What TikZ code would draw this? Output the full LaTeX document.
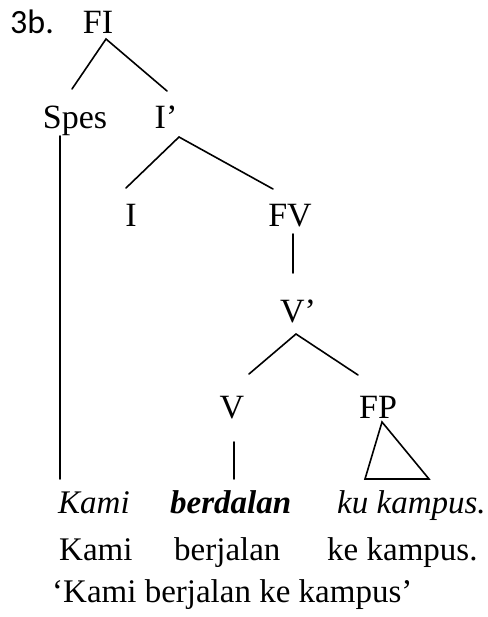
\documentclass[tikz,border=0pt]{standalone}
\usepackage{fontspec}
\setmainfont{Liberation Serif}
\newfontfamily\numfont{Carlito}
\usetikzlibrary{calc}
\tikzset{
  treelab/.style={inner sep=0pt,anchor=base,font=\fontsize{34}{40}\selectfont},
  glosslab/.style={inner sep=0pt,anchor=base west,font=\fontsize{33}{40}\selectfont},
  branch/.style={line width=1.6pt,line cap=round}
}

\begin{document}
\begin{tikzpicture}[x=1pt,y=-1pt]
    \useasboundingbox (0,0) rectangle (487,617);
    % labels of the tree
    \node[glosslab,font=\fontsize{34}{40}\numfont] (ex) at (10,34) {3b.};
    \node[treelab] (fi)   at (98,34)   {FI};
    \node[treelab] (spes) at (75,129)  {Spes};
    \node[treelab] (ip)   at (166,129) {I’};
    \node[treelab] (i)    at (131,226) {I};
    \node[treelab] (fv)   at (290,226) {FV};
    \node[treelab] (vp)   at (298,322) {V’};
    \node[treelab] (v)    at (232,418) {V};
    \node[treelab] (fp)   at (378,418) {FP};
    % the sentence, its gloss and translation
    \node[glosslab,font=\fontsize{33}{40}\itshape] (kami)  at (58,513)  {Kami};
    \node[glosslab,font=\fontsize{33}{40}\bfseries\itshape] (berd) at (170,513) {berdalan};
    \node[glosslab,font=\fontsize{33}{40}\itshape] (kupus) at (337,513) {ku kampus.};
    \node[glosslab] (kamig)  at (59,560)  {Kami};
    \node[glosslab] (berj)   at (174,560) {berjalan};
    \node[glosslab] (kepus)  at (327,560) {ke kampus.};
    \node[glosslab] (transl) at (52,602)  {‘Kami berjalan ke kampus’};
    % branches
    \draw[branch] ($(spes.base)+(-3,-40)$) -- ($(fi.base)+(8,5)$) -- ($(ip.base)+(1,-38)$);
    \draw[branch] ($(spes.base)+(-15,7)$) -- ($(kami.base west)+(2,-34)$);
    \draw[branch] ($(i.base)+(-5,-38)$) -- ($(ip.base)+(13,8)$) -- ($(fv.base)+(-17,-37)$);
    \draw[branch] ($(fv.base)+(3,8)$) -- ($(vp.base)+(-5,-49)$);
    \draw[branch] ($(v.base)+(17,-44)$) -- ($(vp.base)+(-2,12)$) -- ($(fp.base)+(-20,-43)$);
    \draw[branch] ($(v.base)+(2,24)$) -- ($(berd.base west)+(64,-34)$);
    \draw[branch,line join=miter] ($(fp.base)+(4,4)$) -- ($(kupus.base west)+(28,-34)$)
        -- ($(kupus.base west)+(92,-34)$) -- cycle;
\end{tikzpicture}
\end{document}
